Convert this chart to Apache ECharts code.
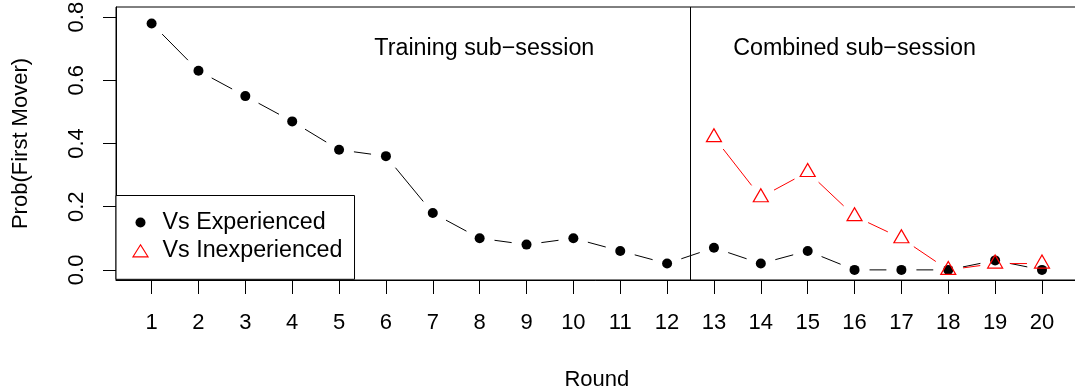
<!DOCTYPE html>
<html><head><meta charset="utf-8">
<script src="https://cdn.jsdelivr.net/npm/echarts@6/dist/echarts.min.js"></script>
<style>html,body{margin:0;padding:0;background:#fff}#c{width:1075px;height:390px}</style>
</head><body><div id="c"></div>
<script>
// ---- data ----
const rounds = [1,2,3,4,5,6,7,8,9,10,11,12,13,14,15,16,17,18,19,20];
const experienced = [0.78,0.63,0.55,0.47,0.38,0.36,0.18,0.10,0.08,0.10,0.06,0.02,0.07,0.02,0.06,0.00,0.00,0.00,0.03,0.00];
const inexpRounds = [13,14,15,16,17,18,19,20];
const inexperienced = [0.42,0.23,0.31,0.17,0.10,0.00,0.02,0.02];
const yTicks = [0,0.2,0.4,0.6,0.8];
const yTickLabels = ['0.0','0.2','0.4','0.6','0.8'];
const xTickLabels = ['1','2','3','4','5','6','7','8','9','10','11','12','13','14','15','16','17','18','19','20'];
const dividerRound = 12.5;
const noteX = [8.1,16];
const noteY = [0.70,0.70];
const noteText = ['Training sub\u2212session','Combined sub\u2212session'];
const seriesNames = ['Vs Experienced','Vs Inexperienced'];
const xTitle = 'Round';
const yTitle = 'Prob(First Mover)';

// ---- helpers ----
const FONT = '"Liberation Sans", Arial, Helvetica, sans-serif';
const FS = 22;
const FS2 = 23.3;
const GAP = 15;
function segs(xs, ys){ const s=[]; for(let i=0;i<xs.length-1;i++) s.push([xs[i],ys[i],xs[i+1],ys[i+1]]); return s; }
function gapLine(color){
  return function(params, api){
    const p1 = api.coord([api.value(0), api.value(1)]);
    const p2 = api.coord([api.value(2), api.value(3)]);
    const dx=p2[0]-p1[0], dy=p2[1]-p1[1], d=Math.hypot(dx,dy);
    if (d <= 2*GAP) return null;
    const ux=dx/d, uy=dy/d;
    return {type:'line', shape:{x1:p1[0]+ux*GAP, y1:p1[1]+uy*GAP, x2:p2[0]-ux*GAP, y2:p2[1]-uy*GAP},
            style:{stroke:color, lineWidth:1}};
  };
}
// legend icons: glyph inside a 34x13 box (moveTo points fix the box)
const ICON_CIRCLE = 'path://M0,0M34,13M22,6.5A5,5,0,1,1,12,6.5A5,5,0,1,1,22,6.5Z';
const ICON_TRI = 'path://M0,0M34,13M17,0.5L24.5,12.5L9.5,12.5Z';

const chart = echarts.init(document.getElementById('c'), null, {renderer:'canvas'});
chart.setOption({
  animation:false,
  backgroundColor:'#fff',
  textStyle:{fontFamily:FONT},
  grid:{left:116, top:7, right:-2.6, bottom:110, outerBoundsMode:'none', containLabel:false,
        show:true, borderColor:'#000', borderWidth:1, backgroundColor:'transparent'},
  xAxis:{
    type:'value', min:0.24, max:20.76,
    name:xTitle, nameLocation:'middle', nameGap:89,
    nameTextStyle:{fontSize:FS, color:'#000', fontFamily:FONT},
    axisLine:{show:true, onZero:false, lineStyle:{color:'#000', width:1}},
    axisTick:{show:true, customValues:rounds, length:14, lineStyle:{color:'#000', width:1}},
    axisLabel:{show:true, customValues:rounds, margin:32, fontSize:FS, color:'#000', fontFamily:FONT,
      formatter:function(v){ const i=rounds.indexOf(v); return i>=0?xTickLabels[i]:''; }},
    splitLine:{show:false}
  },
  yAxis:{
    type:'value', min:-0.032, max:0.832,
    name:yTitle, nameLocation:'middle', nameGap:84, nameRotate:90,
    nameTextStyle:{fontSize:FS, color:'#000', fontFamily:FONT},
    axisLine:{show:true, onZero:false, lineStyle:{color:'#000', width:1}},
    axisTick:{show:true, customValues:yTicks, length:13, lineStyle:{color:'#000', width:1}},
    axisLabel:{show:true, customValues:yTicks, rotate:90, margin:28, fontSize:FS, color:'#000', fontFamily:FONT,
      formatter:function(v){ let best=0; yTicks.forEach((t,i)=>{ if(Math.abs(t-v)<Math.abs(yTicks[best]-v)) best=i; }); return yTickLabels[best]; }},
    splitLine:{show:false}
  },
  legend:{
    orient:'vertical', left:116, top:195.5,
    padding:[15,12,16.5,5],
    itemWidth:34, itemHeight:13, itemGap:4.3,
    borderColor:'#000', borderWidth:1, borderRadius:0, backgroundColor:'#fff',
    selectedMode:false,
    textStyle:{fontSize:FS2, color:'#000', fontFamily:FONT, lineHeight:24},
    data:[{name:seriesNames[0], icon:ICON_CIRCLE, itemStyle:{color:'#000', opacity:1}},
          {name:seriesNames[1], icon:ICON_TRI, itemStyle:{color:'none', borderColor:'#ff0000', borderWidth:1.2, opacity:1}}]
  },
  series:[
    {
      name:'expLine', type:'custom', renderItem:gapLine('#000'),
      data:segs(rounds, experienced), encode:{x:[0,2], y:[1,3]}, z:2, silent:true,
      markLine:{silent:true, symbol:'none', label:{show:false},
        lineStyle:{color:'#000', width:1, type:'solid', opacity:1}, data:[{xAxis:dividerRound}]}
    },
    {
      name:seriesNames[0], type:'scatter', symbol:'circle', symbolSize:10,
      itemStyle:{color:'#000', opacity:1}, z:3,
      data:rounds.map((r,i)=>[r, experienced[i]])
    },
    {
      name:'inexpLine', type:'custom', renderItem:gapLine('#ff0000'),
      data:segs(inexpRounds, inexperienced), encode:{x:[0,2], y:[1,3]}, z:4, silent:true
    },
    {
      name:seriesNames[1], type:'scatter', symbol:'triangle', symbolSize:[15,13], symbolOffset:[0,-2],
      itemStyle:{color:'none', borderColor:'#ff0000', borderWidth:1.2, opacity:1}, z:5,
      data:inexpRounds.map((r,i)=>[r, inexperienced[i]])
    },
    {
      name:'notes', type:'custom', silent:true, z:6,
      data:noteX.map((x,i)=>[x, noteY[i], i]),
      renderItem:function(params, api){
        const p = api.coord([api.value(0), api.value(1)]);
        return {type:'text', x:p[0], y:p[1], style:{text:noteText[api.value(2)], fill:'#000',
          font:FS2+'px '+FONT, textAlign:'center', textVerticalAlign:'middle'}};
      }
    }
  ]
});
</script></body></html>
